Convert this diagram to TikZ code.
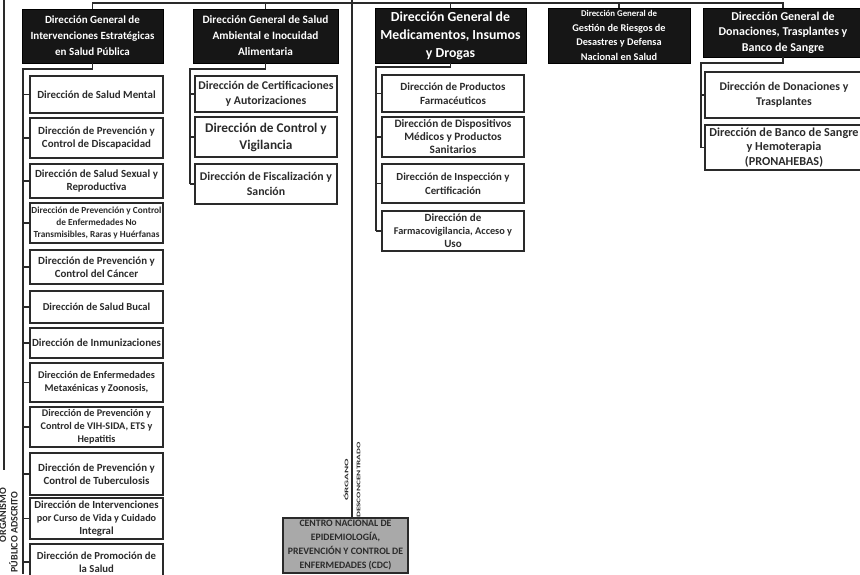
\documentclass[tikz,border=0pt]{standalone}
\usepackage{fontspec}
\setmainfont{Carlito}
\definecolor{hdrfill}{HTML}{161616}
\definecolor{boxline}{HTML}{2A2A2A}
\definecolor{txt}{HTML}{2B2B2B}
\definecolor{cdcfill}{HTML}{A9A9A9}
\newcommand{\fsz}[2]{\fontsize{#1}{#2}\selectfont}
\begin{document}
\begin{tikzpicture}[x=1pt,y=-1pt,
  hdr/.style={draw=black, fill=hdrfill, text=white, align=center, inner sep=0.5pt, line width=0.8pt},
  sub/.style={draw=boxline, fill=white, text=txt, align=center, inner sep=0.5pt, line width=1.3pt},
  conn/.style={draw=boxline, line width=1.1pt},
  vlabel/.style={rotate=90, text=txt, align=center, inner sep=0pt}
]
\useasboundingbox (0,0) rectangle (860,574);
% headers
\node[hdr, minimum width=141pt, minimum height=54pt, font=\bfseries\fsz{11}{16}] (h1) at (92.5,36) {Dirección General de\\Intervenciones Estratégicas\\en Salud Pública};
\node[hdr, minimum width=145pt, minimum height=54pt, font=\bfseries\fsz{11.3}{16}] (h2) at (265.5,36) {Dirección General de Salud\\Ambiental e Inocuidad\\Alimentaria};
\node[hdr, minimum width=151pt, minimum height=55pt, font=\bfseries\fsz{13.8}{18}] (h3) at (450.5,35.5) {Dirección General de\\Medicamentos, Insumos\\y Drogas};
\node[hdr, minimum width=142pt, minimum height=55pt, font=\bfseries\fsz{10.3}{14.5}] (h4) at (619,35.5) {{\fsz{8.8}{14.5}Dirección General de}\\Gestión de Riesgos de\\Desastres y Defensa\\Nacional en Salud};
\node[hdr, minimum width=160pt, minimum height=49pt, font=\bfseries\fsz{12}{15.5}] (h5) at (783,32.5) {Dirección General de\\Donaciones, Trasplantes y\\Banco de Sangre};
% column 1
\tikzset{c1/.style={sub, minimum width=133pt, font=\bfseries\fsz{10.9}{13}}}
\node[c1, minimum height=37pt] (b1) at (96.5,94.5) {Dirección de Salud Mental};
\node[c1, minimum height=40pt] (b2) at (96.5,138) {Dirección de Prevención y\\Control de Discapacidad};
\node[c1, minimum height=34pt] (b3) at (96.5,181) {Dirección de Salud Sexual y\\Reproductiva};
\node[c1, minimum height=40pt, font=\bfseries\fsz{9.3}{12}] (b4) at (96.5,223) {Dirección de Prevención y Control\\de Enfermedades No\\Transmisibles, Raras y Huérfanas};
\node[c1, minimum height=34pt] (b5) at (96.5,267) {Dirección de Prevención y\\Control del Cáncer};
\node[c1, minimum height=32pt, font=\bfseries\fsz{10.6}{13}] (b6) at (96.5,307) {Dirección de Salud Bucal};
\node[c1, minimum height=30pt] (b7) at (96.5,343) {Dirección de Inmunizaciones};
\node[c1, minimum height=39pt, font=\bfseries\fsz{10.3}{13}] (b8) at (96.5,382.5) {Dirección de Enfermedades\\Metaxénicas y Zoonosis,};
\node[c1, minimum height=40pt, font=\bfseries\fsz{10.2}{13}] (b9) at (96.5,427) {Dirección de Prevención y\\Control de VIH-SIDA, ETS y\\Hepatitis};
\node[c1, minimum height=42pt] (b10) at (96.5,474) {Dirección de Prevención y\\Control de Tuberculosis};
\node[c1, minimum height=41pt, font=\bfseries\fsz{10.8}{13}] (b11) at (96.5,518.5) {Dirección de Intervenciones\\{\fsz{10.2}{13}por Curso de Vida y Cuidado}\\Integral};
\node[c1, minimum height=36pt, font=\bfseries\fsz{10.7}{13}] (b12) at (96.5,562) {Dirección de Promoción de\\la Salud};
% column 2
\tikzset{c2/.style={sub, minimum width=142pt, font=\bfseries\fsz{11.8}{15}}}
\node[c2, minimum height=36pt] (c1) at (266,94) {Dirección de Certificaciones\\y Autorizaciones};
\node[c2, minimum height=40pt, font=\bfseries\fsz{13.3}{17}] (c2) at (266,137) {Dirección de Control y\\Vigilancia};
\node[c2, minimum height=40pt] (c3) at (266,184) {Dirección de Fiscalización y\\Sanción};
% column 3
\tikzset{c3/.style={sub, minimum width=142pt, font=\bfseries\fsz{11}{13.5}}}
\node[c3, minimum height=37pt] (d1) at (453,93.5) {Dirección de Productos\\Farmacéuticos};
\node[c3, minimum height=40pt, font=\bfseries\fsz{11.3}{13}] (d2) at (453,137) {Dirección de Dispositivos\\Médicos y Productos\\Sanitarios};
\node[c3, minimum height=39pt, font=\bfseries\fsz{10.8}{14}] (d3) at (453,183.5) {Dirección de Inspección y\\Certificación};
\node[c3, minimum height=40pt, font=\bfseries\fsz{11}{13}] (d4) at (453,231) {Dirección de\\{\fsz{10.3}{13}Farmacovigilancia, Acceso y}\\Uso};
% column 5
\tikzset{c5/.style={sub, minimum width=158pt, font=\bfseries\fsz{11.8}{15}}}
\node[c5, minimum height=46pt] (e1) at (784,95) {Dirección de Donaciones y\\Trasplantes};
\node[c5, minimum height=45pt, font=\bfseries\fsz{12.2}{14.5}] (e2) at (784,147.5) {Dirección de Banco de Sangre\\y Hemoterapia\\(PRONAHEBAS)};
% CDC
\node[sub, fill=cdcfill, minimum width=125pt, minimum height=55pt, font=\bfseries\fsz{9.8}{14}] (cdc) at (345.5,545.5) {CENTRO NACIONAL DE\\EPIDEMIOLOGÍA,\\PREVENCIÓN Y CONTROL DE\\ENFERMEDADES (CDC)};
% top bus
\coordinate (bus) at (0,3);
\draw[conn] (h1.north) |- (h5.north |- bus) -- (h5.north);
\draw[conn] (h2.north) -- (h2.north |- bus);
\draw[conn] (h3.north) -- (h3.north |- bus);
\draw[conn] (h4.north) -- (h4.north |- bus);
% trunk
\coordinate (trtop) at (352,0);
\draw[conn] (trtop) -- (trtop |- cdc.north);
\node[vlabel, font=\bfseries\fsz{5.5}{12}] (odlab) at (352,480) {\scalebox{2.0}[1]{ÓRGANO}\\\scalebox{1.7}[1]{DESCONCENTRADO}};
% left line and label
\coordinate (ltop) at (4,0);
\coordinate (lbot) at (4,470);
\draw[conn] (ltop) -- (lbot);
\node[vlabel, font=\bfseries\fsz{10}{11}] (oplab1) at (3,515) {ORGANISMO};
\node[vlabel, font=\bfseries\fsz{10}{11}] (oplab2) at (13.5,532) {PÚBLICO ADSCRITO};
% column 1 bus
\coordinate (k1) at (23,69);
\coordinate (k1e) at (23,574);
\draw[conn] (h1.south) |- (k1) -- (k1e);
\foreach \n in {b1,b2,b3,b4,b5,b6,b7,b8,b9,b10,b11,b12} \draw[conn] (\n.west) -- (\n.west -| k1);
% column 2 bus
\coordinate (k2) at (190,69);
\draw[conn] (h2.south) |- (k2) -- (k2 |- c3.west);
\foreach \n in {c1,c2,c3} \draw[conn] (\n.west) -- (\n.west -| k2);
% column 3 bus
\coordinate (k3) at (376,67);
\draw[conn] (h3.south) |- (k3) -- (k3 |- d4.west);
\foreach \n in {d1,d2,d3,d4} \draw[conn] (\n.west) -- (\n.west -| k3);
% column 5 bus
\coordinate (k5) at (701,63);
\draw[conn] (h5.south) |- (k5) -- (k5 |- e2.west);
\foreach \n in {e1,e2} \draw[conn] (\n.west) -- (\n.west -| k5);
\end{tikzpicture}
\end{document}
